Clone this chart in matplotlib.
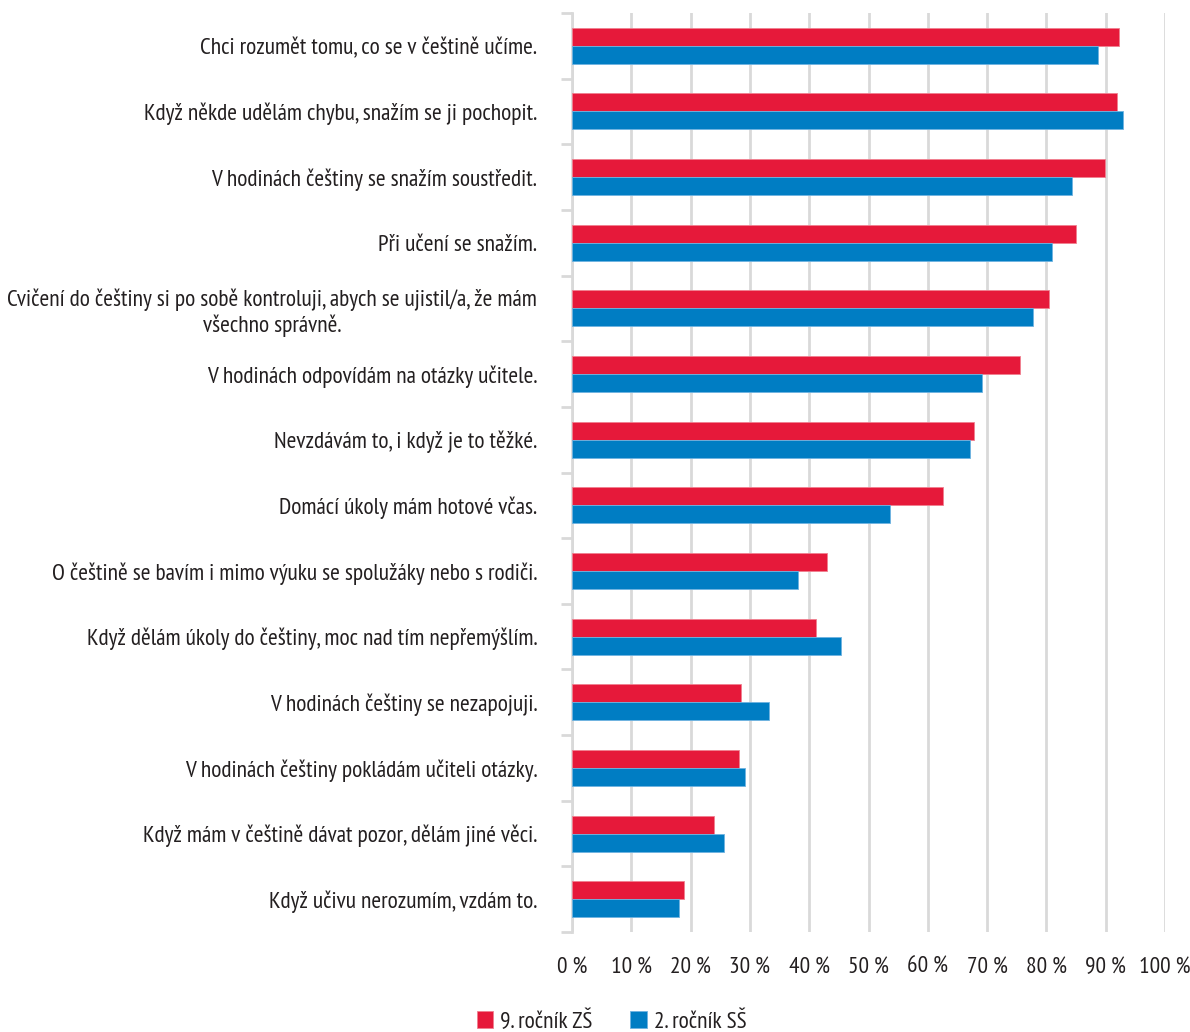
import numpy as np
import matplotlib.pyplot as plt
from matplotlib.ticker import FixedLocator

plt.rcParams['font.family'] = ['PT Sans Narrow', 'Liberation Sans Narrow', 'DejaVu Sans']

labels = [
    "Chci rozumět tomu, co se v češtině učíme.",
    "Když někde udělám chybu, snažím se ji pochopit.",
    "V hodinách češtiny se snažím soustředit.",
    "Při učení se snažím.",
    "Cvičení do češtiny si po sobě kontroluji, abych se ujistil/a, že mám\nvšechno správně.",
    "V hodinách odpovídám na otázky učitele.",
    "Nevzdávám to, i když je to těžké.",
    "Domácí úkoly mám hotové včas.",
    "O češtině se bavím i mimo výuku se spolužáky nebo s rodiči.",
    "Když dělám úkoly do češtiny, moc nad tím nepřemýšlím.",
    "V hodinách češtiny se nezapojuji.",
    "V hodinách češtiny pokládám učiteli otázky.",
    "Když mám v češtině dávat pozor, dělám jiné věci.",
    "Když učivu nerozumím, vzdám to.",
]
zs9 = [92.2, 91.9, 89.9, 85.0, 80.5, 75.6, 67.8, 62.6, 43.0, 41.2, 28.5, 28.1, 24.0, 18.8]
ss2 = [88.7, 92.9, 84.3, 80.9, 77.7, 69.1, 67.1, 53.6, 38.1, 45.3, 33.3, 29.2, 25.7, 18.1]
series_names = ["9. ročník ZŠ", "2. ročník SŠ"]

red = '#E6193A'
blue = '#007DC3'
grid_c = '#D9D9D9'
txt_c = '#231F20'
fs = 16.8

fig = plt.figure(figsize=(11.9, 10.32), dpi=100)
ax = fig.add_axes([0.4807, 0.0969, 0.4983, 0.8905])

y = np.arange(len(labels))
h = 0.274
ax.barh(y - h / 2, zs9, height=h, color=red, edgecolor='#F08090', linewidth=0.6,
        label=series_names[0], zorder=3)
ax.barh(y + h / 2, ss2, height=h, color=blue, edgecolor='#6FB3E0', linewidth=0.6,
        label=series_names[1], zorder=3)

ax.set_xlim(0, 100)
ax.set_ylim(len(labels) - 0.5, -0.5)

ax.set_xticks(np.arange(0, 101, 10))
ax.set_xticklabels([f'{v} %' for v in range(0, 101, 10)], fontsize=fs, color=txt_c)
ax.tick_params(axis='x', length=0, pad=18)
ax.grid(axis='x', color=grid_c, linewidth=2, zorder=0)

ax.set_yticks(y)
ax.set_yticklabels(labels, fontsize=fs, color=txt_c, multialignment='center')
ax.tick_params(axis='y', which='major', length=0, pad=25)
ax.yaxis.set_minor_locator(FixedLocator(np.arange(-0.5, len(labels), 1)))
ax.tick_params(axis='y', which='minor', length=8, width=2, color=grid_c)

for s in ['top', 'right', 'bottom']:
    ax.spines[s].set_visible(False)
ax.spines['left'].set_color(grid_c)
ax.spines['left'].set_linewidth(2)

fig.legend(loc='lower center', bbox_to_anchor=(0.514, -0.021), ncol=2, frameon=False,
           fontsize=fs, handlelength=0.7, handleheight=0.7, handletextpad=0.3,
           columnspacing=1.6, labelcolor=txt_c)

fig.savefig('out.png', dpi=100)
